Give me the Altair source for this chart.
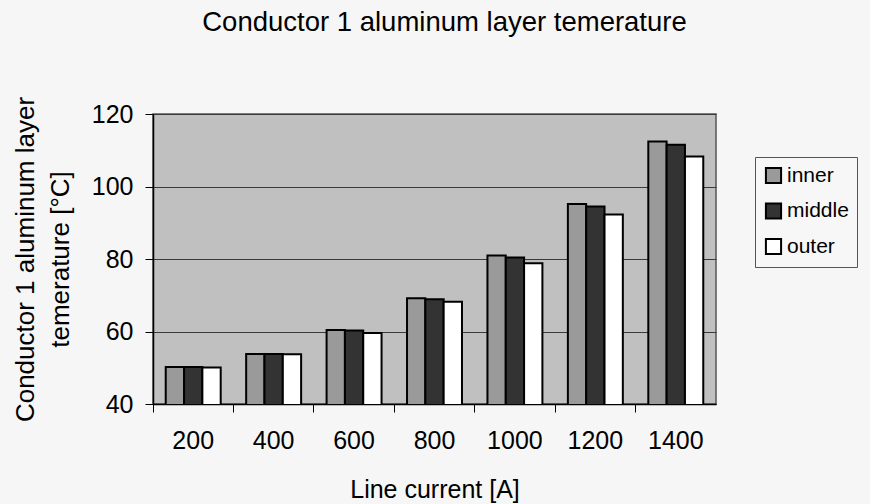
import altair as alt
import pandas as pd

# Line current categories [A]
currents = ["200", "400", "600", "800", "1000", "1200", "1400"]
layers = ["inner", "middle", "outer"]

# Aluminum layer temperature [°C] per layer
inner = [50.2, 53.8, 60.4, 69.2, 81.0, 95.2, 112.4]
middle = [50.2, 53.8, 60.3, 68.9, 80.4, 94.5, 111.5]
outer = [50.1, 53.7, 59.6, 68.2, 78.8, 92.3, 108.3]

rows = []
for layer, vals in zip(layers, [inner, middle, outer]):
    for c, v in zip(currents, vals):
        rows.append({"current": c, "layer": layer, "temp": v})
df = pd.DataFrame(rows)

font = "Liberation Sans"

bars = alt.Chart(df).mark_bar(stroke="black", strokeWidth=2, clip=True).encode(
    x=alt.X(
        "current:N",
        sort=currents,
        scale=alt.Scale(paddingInner=0, paddingOuter=0),
        axis=alt.Axis(
            title="Line current [A]",
            bandPosition=0,
            labelAngle=0,
            labelFontSize=25,
            labelFont=font,
            labelColor="black",
            labelPadding=16,
            titleFontSize=25,
            titleFont=font,
            titleFontWeight="normal",
            titleColor="black",
            titlePadding=24,
            domainColor="black",
            domainWidth=1.5,
            tickColor="black",
            tickSize=8,
            grid=False,
        ),
    ),
    xOffset=alt.XOffset(
        "layer:N",
        sort=layers,
        scale=alt.Scale(paddingInner=0, paddingOuter=0.695),
    ),
    y=alt.Y(
        "temp:Q",
        scale=alt.Scale(domain=[40, 120], nice=False, zero=False),
        axis=alt.Axis(
            title=["Conductor 1 aluminum layer", "temerature [°C]"],
            values=[40, 60, 80, 100, 120],
            labelFontSize=25,
            labelFont=font,
            labelColor="black",
            labelPadding=12,
            titleFontSize=26,
            titleFont=font,
            titleFontWeight="normal",
            titleColor="black",
            titlePadding=18,
            titleLineHeight=35,
            domainColor="black",
            domainWidth=1.5,
            tickColor="black",
            tickSize=8,
            grid=True,
            gridColor="#3a3a3a",
            gridWidth=1.2,
        ),
    ),
    color=alt.Color(
        "layer:N",
        sort=layers,
        scale=alt.Scale(domain=layers, range=["#9a9a9a", "#333333", "#ffffff"]),
        legend=alt.Legend(
            title=None,
            orient="none",
            legendX=602,
            legendY=43,
            labelFontSize=21,
            labelFont=font,
            labelColor="black",
            symbolType="square",
            symbolSize=230,
            symbolStrokeColor="black",
            symbolStrokeWidth=2,
            symbolOpacity=1,
            rowPadding=10.5,
            labelOffset=3,
            padding=8,
            strokeColor="#555555",
            fillColor="#f7f7f7",
        ),
    ),
)

chart = bars.properties(
    width=563,
    height=290,
    autosize="none",
    padding={"left": 153, "top": 114, "right": 154, "bottom": 100},
    background="#f6f6f6",
    title=alt.TitleParams(
        "Conductor 1 aluminum layer temerature",
        fontSize=27.5,
        font=font,
        fontWeight="normal",
        color="black",
        anchor="middle",
        dx=10,
        offset=60,
    ),
).configure_view(
    fill="#c0c0c0",
    stroke="#555555",
    strokeWidth=1.5,
)

chart.save("out.html", embed_options={"renderer": "svg", "actions": False})
